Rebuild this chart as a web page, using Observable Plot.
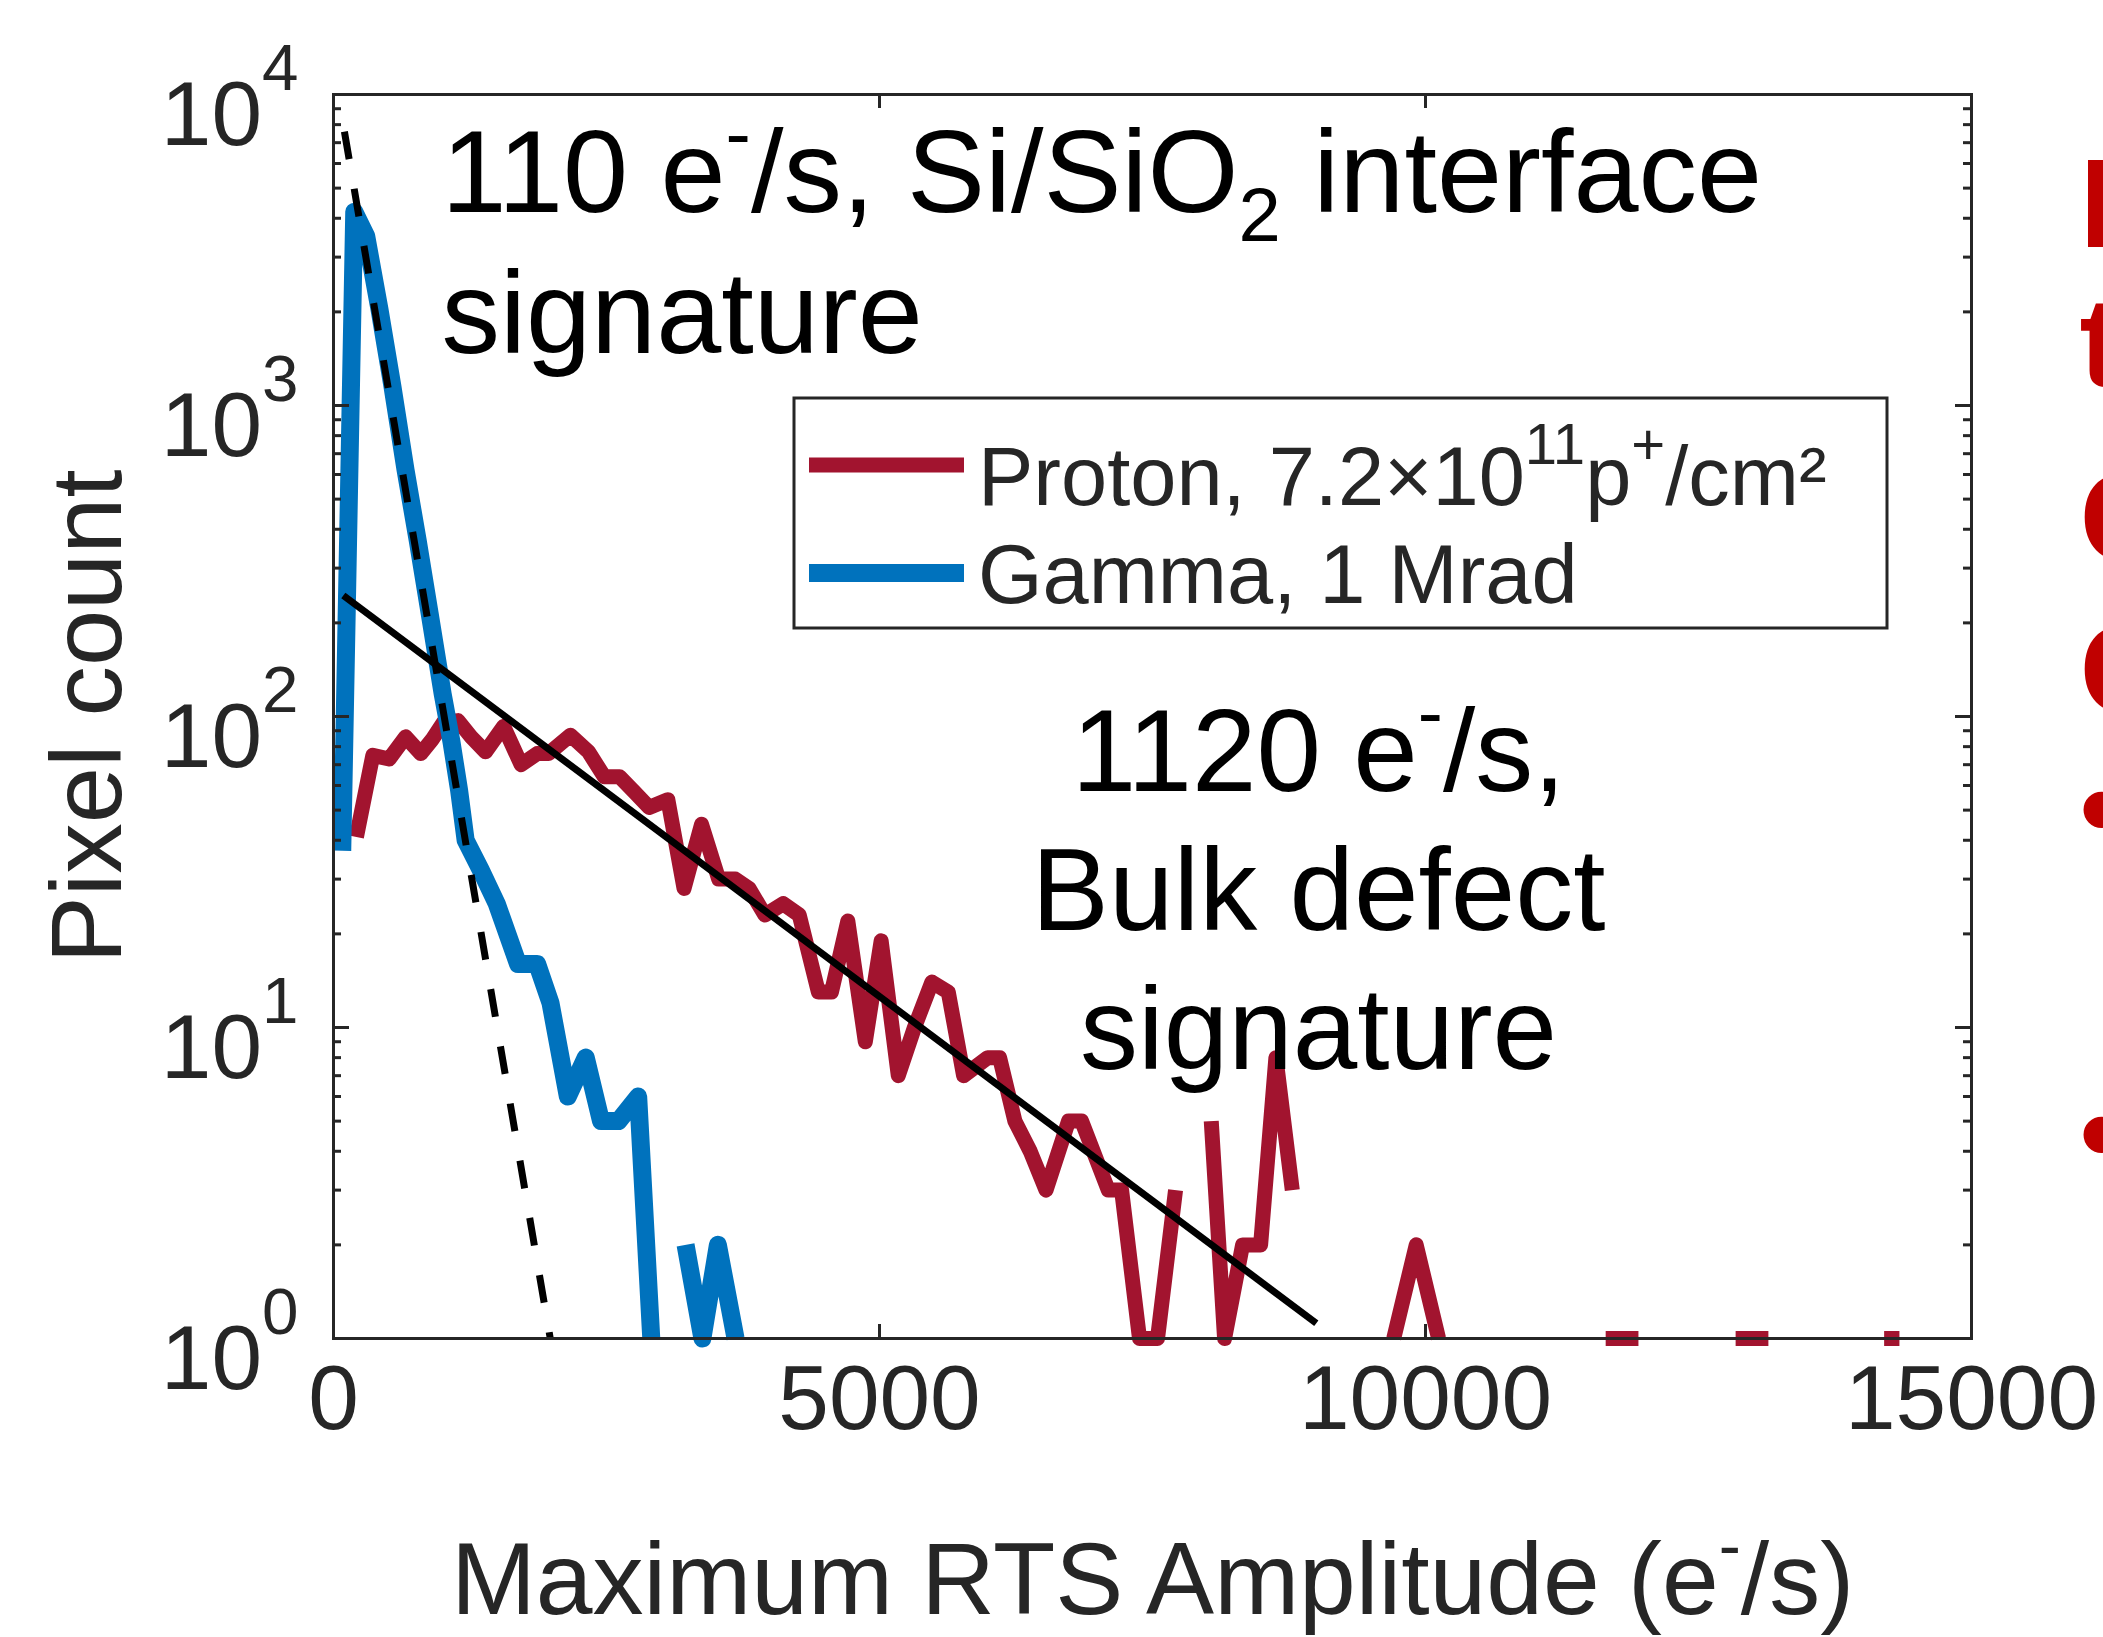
<!DOCTYPE html>
<html>
<head>
<meta charset="utf-8">
<script src="https://cdn.jsdelivr.net/npm/d3@7"></script>
<script src="https://cdn.jsdelivr.net/npm/@observablehq/plot@0.6"></script>
<style>
html, body { margin: 0; padding: 0; background: #fff; overflow: hidden; }
#chart svg { display: block; }
</style>
</head>
<body>
<div id="chart"></div>
<script>
// ---------------- data ----------------
// Proton-irradiated histogram (count 0 = empty bin, not drawn on log axis)
const protonAmplitude = [210, 360, 510, 660, 800, 900, 1010, 1140, 1260, 1392, 1558, 1718, 1865, 1970,
  2170, 2335, 2480, 2620, 2760, 2890, 3062, 3210, 3370, 3527, 3680, 3805, 3950, 4118, 4265, 4440,
  4560, 4710, 4870, 5015, 5172, 5320, 5480, 5630, 5770, 5990, 6100, 6240, 6380, 6525, 6731, 6851,
  7095, 7217, 7381, 7546, 7711, 7870, 8038, 8160, 8325, 8490, 8630, 8780, 9000, 9709, 9915, 10120,
  11000, 11650, 11950, 12400, 12840, 13140, 13700, 14200, 14340];
const protonCount = [41, 75, 73, 86, 76, 84, 96, 97, 86, 77, 93, 70, 76, 76,
  87, 77, 64, 64, 57, 51, 54, 28, 45, 30, 30, 28, 23, 25, 23, 13,
  13, 22, 9, 19, 7, 10, 14, 13, 7, 8, 8, 5, 4, 3, 5, 5,
  3, 3, 1, 1, 3, 0, 5, 1, 2, 2, 8, 3, 0, 1, 2, 1,
  0, 1, 1, 0, 1, 1, 0, 1, 1];

// Gamma-irradiated histogram
const gammaAmplitude = [80, 190, 300, 420, 540, 660, 770, 880, 1000, 1080, 1150, 1210, 1350, 1495,
  1690, 1865, 1987, 2146, 2310, 2450, 2610, 2790, 2910, 3060, 3224, 3378, 3520, 3682];
const gammaCount = [37, 4200, 3500, 2050, 1150, 620, 370, 215, 118, 83, 58, 40, 32, 25,
  16, 16, 12, 6, 8, 5, 5, 6, 1, 0, 2, 1, 2, 1];

// Exponential fits (straight lines on the semilog axes)
const interfaceFitAmplitude = [100, 1985];
const interfaceFitCount = [7600, 1];
const bulkFitAmplitude = [90, 9000];
const bulkFitCount = [245, 1.12];

// Axes / labels
const xTicks = [0, 5000, 10000, 15000];
const yTicks = [1, 10, 100, 1000, 10000];
const xLabel = "Maximum RTS Amplitude (e^{-}/s)";
const yLabel = "Pixel count";

// Legend
const seriesNames = ["Proton, 7.2\u00D710^{11}p^{+}/cm\u00B2", "Gamma, 1 Mrad"];
const seriesColors = ["#A2142F", "#0072BD"];

// Annotations
const interfaceNote = ["110 e^{-}/s, Si/SiO_{2} interface", "signature"];
const bulkNote = ["1120 e^{-}/s,", "Bulk defect", "signature"];
const sideFragments = ["I", "t", "C", "C", "\u2022", "\u2022"];

// ---------------- layout ----------------
const W = 2103, H = 1637;
const M = {left: 333, right: 132, top: 94, bottom: 299};
const frameW = W - M.left - M.right;
const frameH = H - M.top - M.bottom;
const axisColor = "#262626";
const FONT = "'Liberation Sans', Arial, Helvetica, sans-serif";

const rows = (xs, ys) => xs.map((x, i) => ({x, y: ys[i]}));
const proton = rows(protonAmplitude, protonCount);
const gamma = rows(gammaAmplitude, gammaCount);
const interfaceFit = rows(interfaceFitAmplitude, interfaceFitCount);
const bulkFit = rows(bulkFitAmplitude, bulkFitCount);
const posY = d => (d.y > 0 ? d.y : NaN);

const yMinor = [];
for (const d of yTicks.slice(0, -1)) for (let k = 2; k <= 9; k++) yMinor.push(d * k);

const noteMarks = [];
interfaceNote.forEach((t, i) => noteMarks.push(Plot.text([t], {
  text: d => d, frameAnchor: "top-left", dx: 108, dy: 117 + i * 141,
  textAnchor: "start", lineAnchor: "bottom", fontSize: 117, fill: "#000", ariaLabel: "annotation"
})));
bulkNote.forEach((t, i) => noteMarks.push(Plot.text([t], {
  text: d => d, frameAnchor: "top-left", dx: 985, dy: 696 + i * 139,
  textAnchor: "middle", lineAnchor: "bottom", fontSize: 116, fill: "#000", ariaLabel: "annotation"
})));
const sideBase = [246, 385, 560, 712, 851, 1176];
sideFragments.forEach((t, i) => noteMarks.push(Plot.text([t], {
  text: d => d, frameAnchor: "top-right", dx: 2079 - (W - M.right), dy: sideBase[i] - M.top,
  textAnchor: "start", lineAnchor: "bottom", fontSize: 127, fontWeight: "bold", fill: "#C00000",
  ariaLabel: "side text"
})));

const chart = Plot.plot({
  width: W, height: H,
  marginLeft: M.left, marginRight: M.right, marginTop: M.top, marginBottom: M.bottom,
  style: {fontFamily: FONT, background: "#fff", color: axisColor},
  x: {type: "linear", domain: [0, 15000]},
  y: {type: "log", domain: [1, 10000]},
  marks: [
    Plot.line(proton, {x: "x", y: posY, stroke: seriesColors[0], strokeWidth: 15, strokeLinecap: "butt", strokeLinejoin: "round"}),
    Plot.line(gamma, {x: "x", y: posY, stroke: seriesColors[1], strokeWidth: 18, strokeLinecap: "butt", strokeLinejoin: "round"}),
    Plot.line(interfaceFit, {x: "x", y: "y", stroke: "#000", strokeWidth: 7, strokeDasharray: "28,30", strokeLinecap: "butt"}),
    Plot.line(bulkFit, {x: "x", y: "y", stroke: "#000", strokeWidth: 7, strokeLinecap: "butt"}),
    Plot.frame({stroke: axisColor, strokeWidth: 3}),
    Plot.tickY(yTicks, {y: d => d, stroke: axisColor, strokeWidth: 3, insetRight: frameW - 16}),
    Plot.tickY(yTicks, {y: d => d, stroke: axisColor, strokeWidth: 3, insetLeft: frameW - 16}),
    Plot.tickY(yMinor, {y: d => d, stroke: axisColor, strokeWidth: 3, insetRight: frameW - 8}),
    Plot.tickY(yMinor, {y: d => d, stroke: axisColor, strokeWidth: 3, insetLeft: frameW - 8}),
    Plot.tickX(xTicks, {x: d => d, stroke: axisColor, strokeWidth: 3, insetTop: frameH - 14}),
    Plot.tickX(xTicks, {x: d => d, stroke: axisColor, strokeWidth: 3, insetBottom: frameH - 14}),
    Plot.axisX({ticks: xTicks, tickSize: 0, tickPadding: 26, fontSize: 91, fill: axisColor, label: null, tickFormat: d => String(d)}),
    Plot.axisY({ticks: yTicks, tickSize: 0, tickPadding: 35, fontSize: 91, fill: axisColor, label: null, dy: 21,
      tickFormat: d => `10^{${Math.round(Math.log10(d))}}`}),
    Plot.text([yLabel], {text: d => d, frameAnchor: "left", dx: 88 - M.left, rotate: -90, textAnchor: "middle", lineAnchor: "middle",
      fontSize: 101, fill: axisColor, ariaLabel: "y-axis title"}),
    Plot.text([xLabel], {text: d => d, frameAnchor: "bottom", dy: 275, textAnchor: "middle", lineAnchor: "bottom",
      fontSize: 102, fill: axisColor, ariaLabel: "x-axis title"}),
    ...noteMarks
  ]
});

document.getElementById("chart").appendChild(chart);

// ---------------- legend (inside the axes, upper right) ----------------
const svg = d3.select(chart);
const lg = svg.append("g").attr("aria-label", "legend").attr("text-anchor", "start");
const box = {x: 794, y: 398, w: 1093, h: 230};
lg.append("rect").attr("x", box.x).attr("y", box.y).attr("width", box.w).attr("height", box.h)
  .attr("fill", "#fff").attr("stroke", axisColor).attr("stroke-width", 3);
const lineY = [465, 573], textY = [505, 603], lineW = [15, 18];
seriesNames.forEach((name, i) => {
  lg.append("line").attr("x1", 809).attr("x2", 964).attr("y1", lineY[i]).attr("y2", lineY[i])
    .attr("stroke", seriesColors[i]).attr("stroke-width", lineW[i]);
  lg.append("text").attr("x", 978).attr("y", textY[i]).attr("font-size", 83)
    .attr("text-anchor", "start").attr("fill", axisColor).attr("font-family", FONT).text(name);
});

// ---------------- rich text (superscripts / subscripts) ----------------
const SVGNS = "http://www.w3.org/2000/svg";
function richify(el, {supShift = 0.45, supSize = 0.65, subShift = 0.25, subSize = 0.65} = {}) {
  const s = el.textContent;
  if (!/[\^_]\{/.test(s)) return;
  const fs = parseFloat(getComputedStyle(el).fontSize);
  const parts = [];
  const re = /([\^_])\{([^}]*)\}/g;
  let last = 0, m;
  while ((m = re.exec(s))) {
    if (m.index > last) parts.push({t: s.slice(last, m.index)});
    parts.push({t: m[2], k: m[1]});
    last = re.lastIndex;
  }
  if (last < s.length) parts.push({t: s.slice(last)});
  while (el.firstChild) el.removeChild(el.firstChild);
  let cur = 0;
  for (const p of parts) {
    const ts = document.createElementNS(SVGNS, "tspan");
    let off = 0;
    if (p.k === "^") { off = -supShift * fs; ts.setAttribute("font-size", (supSize * fs).toFixed(1)); }
    else if (p.k === "_") { off = subShift * fs; ts.setAttribute("font-size", (subSize * fs).toFixed(1)); }
    ts.setAttribute("dy", (off - cur).toFixed(1));
    cur = off;
    ts.textContent = p.t;
    el.appendChild(ts);
  }
}
const richOpts = {
  "y-axis tick label": {supShift: 0.6, supSize: 0.72},
  "annotation": {supShift: 0.34, supSize: 0.65, subShift: 0.25, subSize: 0.65},
  "x-axis title": {supShift: 0.42, supSize: 0.65},
  "legend": {supShift: 0.5, supSize: 0.7}
};
chart.querySelectorAll("text").forEach(el => {
  const g = el.closest("g[aria-label]");
  const key = g ? g.getAttribute("aria-label") : "";
  richify(el, richOpts[key] || {});
});
</script>
</body>
</html>
